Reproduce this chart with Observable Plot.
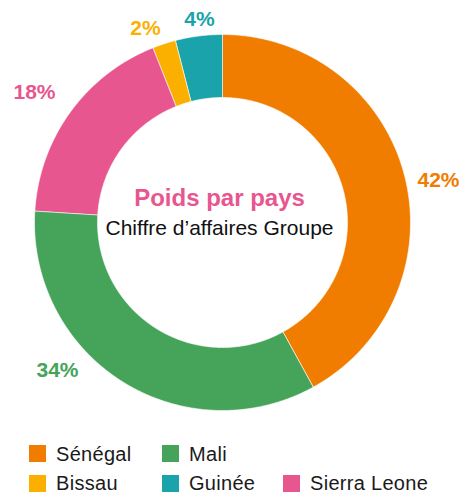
<!DOCTYPE html>
<html>
<head>
<meta charset="utf-8">
<script src="https://cdn.jsdelivr.net/npm/d3@7"></script>
<script src="https://cdn.jsdelivr.net/npm/@observablehq/plot@0.6"></script>
<style>
  html, body { margin: 0; padding: 0; background: #fff; }
  #wrap { position: relative; width: 469px; height: 493px; overflow: hidden; font-family: "Liberation Sans", Arial, sans-serif; }
  #chart { position: absolute; left: 0; top: 0; }
  .leg { position: absolute; display: flex; align-items: center; font-size: 20px; line-height: 20px; letter-spacing: 0.3px; color: #1a1a1a; white-space: nowrap; }
  .sw { width: 17px; height: 17px; margin-right: 10px; }
</style>
</head>
<body>
<div id="wrap"><div id="chart"></div></div>
<script>
// ---- data ----
const countries = ["Sénégal", "Mali", "Sierra Leone", "Bissau", "Guinée"];
const shares = [42, 34, 18, 2, 4];
const colors = ["#F07D00", "#45A35A", "#E8568F", "#FBB000", "#1BA3AB"];
const shareLabels = ["42%", "34%", "18%", "2%", "4%"];
const legendRows = [["Sénégal", "Mali"], ["Bissau", "Guinée", "Sierra Leone"]];
const title = "Poids par pays";
const subtitle = "Chiffre d\u2019affaires Groupe";

// ---- layout ----
const W = 469, H = 430;
const cx = 222, cy = 222, rOut = 188, rIn = 125;
const labelPos = [[438, 180], [57, 370], [34, 92], [145, 28], [199, 19]];
const legendCols = [29, 162, 283];
const legendRowsY = [453.5, 483];

const total = d3.sum(shares);
const pts = [];
let acc = 0;
countries.forEach((c, i) => {
  const a0 = acc / total * 2 * Math.PI;
  acc += shares[i];
  const a1 = acc / total * 2 * Math.PI;
  const n = Math.max(4, Math.ceil((a1 - a0) / 0.01));
  for (let k = 0; k <= n; k++) {
    const a = a0 + (a1 - a0) * k / n;
    pts.push({country: c, x: cx + rOut * Math.sin(a), y: cy - rOut * Math.cos(a)});
  }
  for (let k = n; k >= 0; k--) {
    const a = a0 + (a1 - a0) * k / n;
    pts.push({country: c, x: cx + rIn * Math.sin(a), y: cy - rIn * Math.cos(a)});
  }
});

const labelData = countries.map((c, i) => ({country: c, label: shareLabels[i], x: labelPos[i][0], y: labelPos[i][1]}));

const plot = Plot.plot({
  width: W, height: H,
  margin: 0,
  x: {domain: [0, W], range: [0, W], axis: null},
  y: {domain: [0, H], range: [0, H], axis: null},
  color: {domain: countries, range: colors},
  style: {fontFamily: "'Liberation Sans', Arial, sans-serif", background: "white"},
  marks: [
    Plot.line(pts, {x: "x", y: "y", z: "country", fill: "country", stroke: "white", strokeWidth: 0.6, curve: "linear-closed"}),
    Plot.text(labelData, {x: "x", y: "y", text: "label", fill: "country", fontSize: 21, fontWeight: "bold"}),
    Plot.text([title], {x: [cx - 3], y: [198], text: d => d, fill: "#E8568F", fontSize: 24, fontWeight: "bold", letterSpacing: 1.4}),
    Plot.text([subtitle], {x: [cx - 3], y: [228], text: d => d, fill: "#111", fontSize: 21, letterSpacing: 0.5})
  ]
});
document.getElementById("chart").appendChild(plot);

const wrap = document.getElementById("wrap");
legendRows.forEach((row, r) => {
  row.forEach((name, j) => {
    const el = document.createElement("div");
    el.className = "leg";
    el.style.left = legendCols[j] + "px";
    el.style.top = (legendRowsY[r] - 10) + "px";
    el.style.height = "20px";
    const sw = document.createElement("div");
    sw.className = "sw";
    sw.style.background = colors[countries.indexOf(name)];
    const t = document.createElement("span");
    t.textContent = name;
    el.appendChild(sw); el.appendChild(t);
    wrap.appendChild(el);
  });
});
</script>
</body>
</html>
